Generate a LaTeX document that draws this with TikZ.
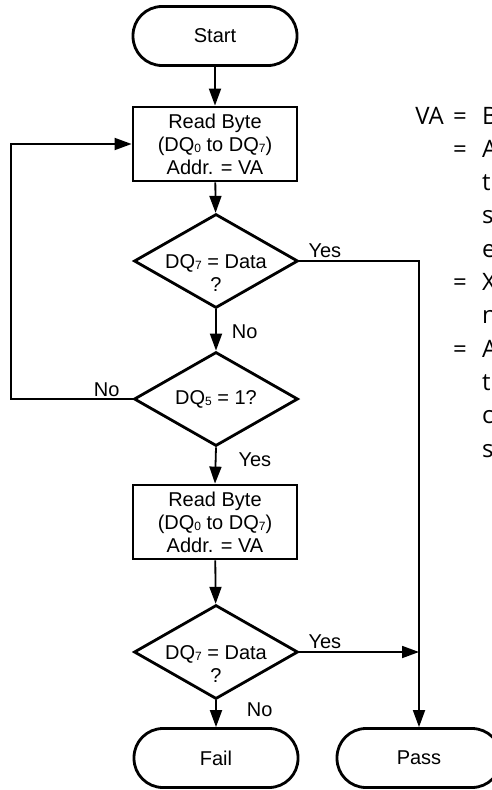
\documentclass[tikz,border=0pt]{standalone}
\usepackage{fontspec}
\setmainfont{Liberation Sans}
\newfontfamily\rfont{Open Sans}
\usetikzlibrary{shapes.geometric,arrows.meta}
\newcommand{\dsub}[1]{\raisebox{-1.5bp}{\fontsize{12bp}{12bp}\selectfont #1}}
\begin{document}
\begin{tikzpicture}[x=1bp,y=-1bp,
  every node/.style={font=\fontsize{20bp}{23bp}\selectfont},
  term/.style={draw, line width=2.8bp, rounded corners=29bp, minimum width=164bp, minimum height=59bp, inner sep=0},
  proc/.style={draw, line width=2.8bp, minimum width=164bp, minimum height=74bp, align=center, inner sep=0},
  dec/.style={draw, diamond, line width=2.8bp, minimum width=164bp, minimum height=94bp, inner sep=0},
  arr/.style={line width=1.8bp, -{Triangle[length=17bp,width=12bp]}},
  lbl/.style={inner sep=2bp},
  rtxt/.style={font=\rfont\fontsize{24bp}{24bp}\selectfont, inner sep=0},
]
\clip (0,0) rectangle (492,790);
\fill[white] (0,0) rectangle (492,790);

% flowchart nodes
\node[term] (start) at (215,36) {Start};
\node[proc] (b1) at (215,144) {Read Byte\\(DQ\dsub{0} to DQ\dsub{7})\\Addr. = VA};
\node[dec, label={[lbl, align=center, yshift=-12bp]center:DQ\dsub{7} = Data\\?}] (d1) at (216,261) {};
\node[dec, label={[lbl]center:DQ\dsub{5} = 1?}] (d2) at (216,399) {};
\node[proc] (b2) at (215,522) {Read Byte\\(DQ\dsub{0} to DQ\dsub{7})\\Addr. = VA};
\node[dec, label={[lbl, align=center, yshift=-12bp]center:DQ\dsub{7} = Data\\?}] (d3) at (216,652) {};
\node[term] (fail) at (216,758) {Fail};
\node[term] (pass) at (419,758) {Pass};

\coordinate (lx) at (11,0);

% connectors
\draw[arr] (start) -- (b1);
\draw[arr] (b1) -- (d1);
\draw[arr] (d1.south) -- (d2.north) node[lbl, pos=0.55, anchor=west, xshift=13bp] {No};
\draw[arr] (d2.west) -- (d2.west -| lx) |- (b1.west);
\node[lbl, anchor=south east, xshift=-11bp] at (d2.west) {No};
\draw[arr] (d2.south) -- (b2.north) node[lbl, pos=0.35, anchor=west, xshift=20bp] {Yes};
\draw[arr] (b2) -- (d3);
\draw[arr] (d3.south) -- (fail.north) node[lbl, pos=0.36, anchor=west, xshift=28bp] {No};
\draw[arr] (d1.east) -| (pass.north);
\node[lbl, anchor=south west, xshift=7bp, yshift=1bp] at (d1.east) {Yes};
\draw[arr] (d3.east) -- (d3.east -| pass.north);
\node[lbl, anchor=south west, xshift=7bp, yshift=1bp] at (d3.east) {Yes};

% right-hand note (cut by the picture edge, as in the reference)
\node[rtxt, anchor=base east] (va) at (444,124) {VA};
\node[rtxt, anchor=base] (e0) at (460,124) {=};
\node[rtxt, anchor=base west] (c0) at (482,124) {B};
\node[rtxt, anchor=base] (e1) at (460,157.3) {=};
\node[rtxt, anchor=base west] (c1) at (482,157.3) {A};
\node[rtxt, anchor=base west] (c2) at (482,190.6) {t};
\node[rtxt, anchor=base west] (c3) at (482,223.9) {s};
\node[rtxt, anchor=base west] (c4) at (482,257.2) {e};
\node[rtxt, anchor=base] (e5) at (460,290.5) {=};
\node[rtxt, anchor=base west] (c5) at (482,290.5) {X};
\node[rtxt, anchor=base west] (c6) at (482,323.8) {n};
\node[rtxt, anchor=base] (e7) at (460,357.1) {=};
\node[rtxt, anchor=base west] (c7) at (482,357.1) {A};
\node[rtxt, anchor=base west] (c8) at (482,390.4) {t};
\node[rtxt, anchor=base west] (c9) at (482,423.7) {c};
\node[rtxt, anchor=base west] (c10) at (482,457) {s};
\end{tikzpicture}
\end{document}
